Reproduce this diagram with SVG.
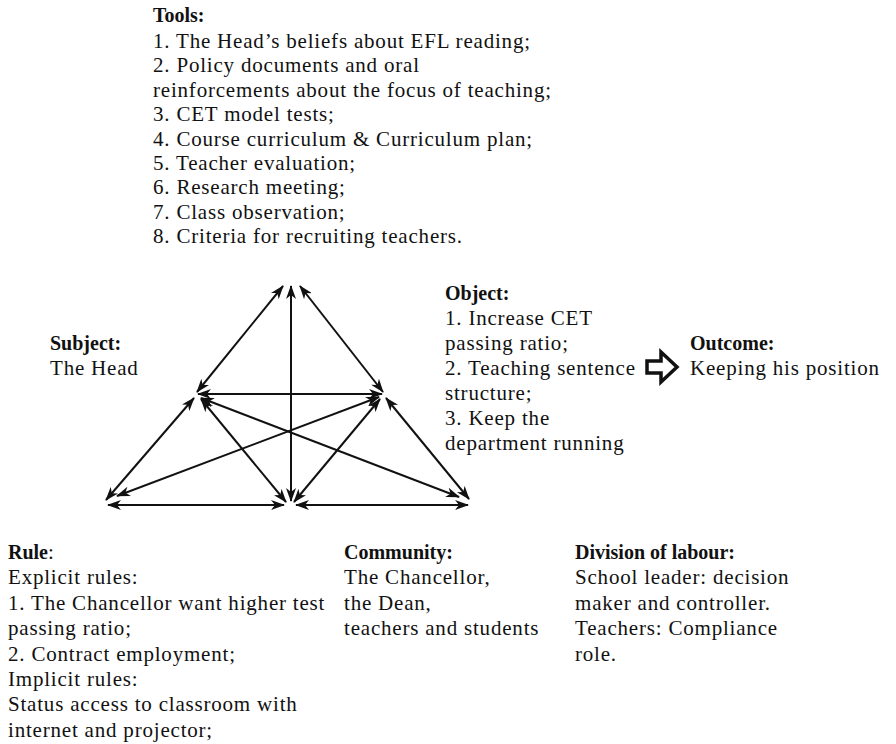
<svg xmlns="http://www.w3.org/2000/svg" width="896" height="744" viewBox="0 0 896 744">
<defs>
<marker id="ah" viewBox="0 0 14 10" refX="13" refY="5" markerWidth="14" markerHeight="10" markerUnits="userSpaceOnUse" orient="auto-start-reverse">
<path d="M0,0 L14,5 L0,10 L4,5 Z" fill="#111"/>
</marker>
<style>
text{font-family:"Liberation Serif","Times New Roman",serif;fill:#111}
.r{font-size:21px;letter-spacing:0.8px}
.b{font-size:20px;font-weight:bold}
.c line{stroke:#111;stroke-width:2;marker-start:url(#ah);marker-end:url(#ah)}
</style>
</defs>
<rect width="896" height="744" fill="#fff"/>
<g id="tools">
<text class="b" x="153" y="22">Tools:</text>
<text class="r" x="153" y="48">1. The Head’s beliefs about EFL reading;</text>
<text class="r" x="153" y="72.4">2. Policy documents and oral</text>
<text class="r" x="153" y="96.8">reinforcements about the focus of teaching;</text>
<text class="r" x="153" y="121.2">3. CET model tests;</text>
<text class="r" x="153" y="145.6">4. Course curriculum &amp; Curriculum plan;</text>
<text class="r" x="153" y="170">5. Teacher evaluation;</text>
<text class="r" x="153" y="194.4">6. Research meeting;</text>
<text class="r" x="153" y="218.8">7. Class observation;</text>
<text class="r" x="153" y="243.2">8. Criteria for recruiting teachers.</text>
</g>
<g id="subject">
<text class="b" x="50" y="350">Subject:</text>
<text class="r" x="50" y="375">The Head</text>
</g>
<g id="object">
<text class="b" x="445" y="300">Object:</text>
<text class="r" x="445" y="325">1. Increase CET</text>
<text class="r" x="445" y="350">passing ratio;</text>
<text class="r" x="445" y="375">2. Teaching sentence</text>
<text class="r" x="445" y="400">structure;</text>
<text class="r" x="445" y="425">3. Keep the</text>
<text class="r" x="445" y="450">department running</text>
</g>
<g id="outcome">
<text class="b" x="690" y="350">Outcome:</text>
<text class="r" x="690" y="375">Keeping his position</text>
</g>
<g id="rule">
<text x="8" y="559"><tspan class="b">Rule</tspan><tspan class="r">:</tspan></text>
<text class="r" x="8" y="584.4">Explicit rules:</text>
<text class="r" x="8" y="609.8">1. The Chancellor want higher test</text>
<text class="r" x="8" y="635.2">passing ratio;</text>
<text class="r" x="8" y="660.6">2. Contract employment;</text>
<text class="r" x="8" y="686">Implicit rules:</text>
<text class="r" x="8" y="711.4">Status access to classroom with</text>
<text class="r" x="8" y="736.8">internet and projector;</text>
</g>
<g id="community">
<text class="b" x="344" y="559">Community:</text>
<text class="r" x="344" y="584.4">The Chancellor,</text>
<text class="r" x="344" y="609.8">the Dean,</text>
<text class="r" x="344" y="635.2">teachers and students</text>
</g>
<g id="division">
<text class="b" x="575" y="559">Division of labour:</text>
<text class="r" x="575" y="584.4">School leader: decision</text>
<text class="r" x="575" y="609.8">maker and controller.</text>
<text class="r" x="575" y="635.2">Teachers: Compliance</text>
<text class="r" x="575" y="660.6">role.</text>
</g>
<g id="connectors" class="c">
<line x1="283" y1="286" x2="197" y2="392"/>
<line x1="291" y1="286" x2="291" y2="501"/>
<line x1="300" y1="286" x2="383" y2="392"/>
<line x1="198" y1="394" x2="382" y2="394"/>
<line x1="194" y1="398" x2="106" y2="500"/>
<line x1="386" y1="398" x2="469" y2="499"/>
<line x1="108" y1="505" x2="284" y2="505"/>
<line x1="296" y1="505" x2="468" y2="505"/>
<line x1="201" y1="398" x2="459" y2="497"/>
<line x1="117" y1="496" x2="379" y2="397"/>
<line x1="201" y1="399" x2="286" y2="502"/>
<line x1="380" y1="399" x2="294" y2="502"/>
</g>
<g id="outcome-arrow">
<path d="M647,361 L661,361 L661,352 L677,367 L661,382 L661,373 L647,373 Z" fill="#fff" stroke="#111" stroke-width="3.5" stroke-linejoin="miter"/>
</g>
</svg>
